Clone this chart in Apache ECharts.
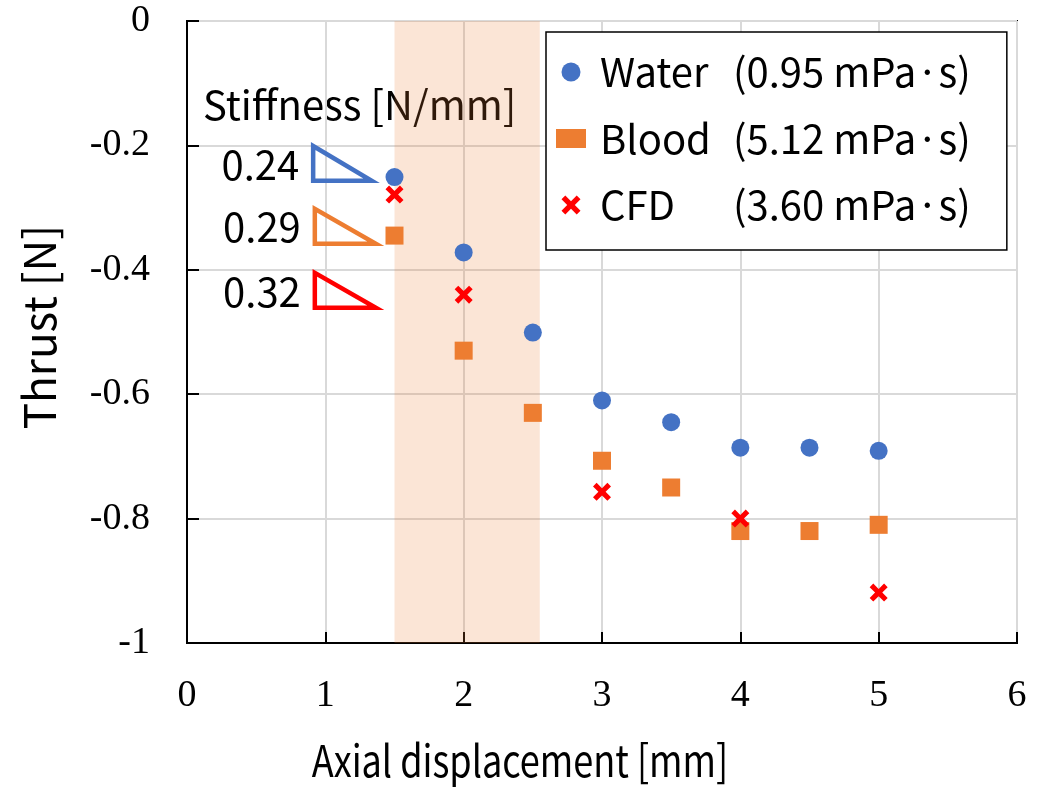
<!DOCTYPE html>
<html><head><meta charset="utf-8">
<script src="https://cdn.jsdelivr.net/npm/echarts@6/dist/echarts.min.js"></script>
<style>html,body{margin:0;padding:0;background:#fff}#c{width:1038px;height:792px}</style>
</head><body><div id="c"></div>
<script>
// ---- data ----
const waterX = [1.5, 2.0, 2.5, 3.0, 3.5, 4.0, 4.5, 5.0];
const waterY = [-0.251, -0.372, -0.501, -0.610, -0.645, -0.686, -0.686, -0.691];
const bloodX = [1.5, 2.0, 2.5, 3.0, 3.5, 4.0, 4.5, 5.0];
const bloodY = [-0.345, -0.530, -0.630, -0.707, -0.750, -0.820, -0.820, -0.810];
const cfdX = [1.5, 2.0, 3.0, 4.0, 5.0];
const cfdY = [-0.279, -0.440, -0.757, -0.800, -0.919];
const seriesNames = ['Water', 'Blood', 'CFD'];
const viscosities = ['(0.95 mPa·s)', '(5.12 mPa·s)', '(3.60 mPa·s)'];
const bandRange = [1.5, 2.55];
const xTitle = 'Axial displacement [mm]';
const yTitle = 'Thrust [N]';
const stiffnessTitle = 'Stiffness [N/mm]';
const stiffnessLabels = ['0.24', '0.29', '0.32'];
// triangle annotations in data coords: [xLeft, xRight, yTop, yBottom]
const triangles = [
  [0.912, 1.335, -0.201, -0.257],
  [0.924, 1.365, -0.302, -0.358],
  [0.924, 1.365, -0.405, -0.461]
];
const xTicks = [0, 1, 2, 3, 4, 5, 6];
const yTicks = [0, -0.2, -0.4, -0.6, -0.8, -1];

const colors = ['#4472C4', '#ED7D31', '#FF0000'];
const crossPath = 'path://M0,2L2,0L5,3L8,0L10,2L7,5L10,8L8,10L5,7L2,10L0,8L3,5Z';
const sans = '"Noto Sans CJK JP", "Noto Sans", sans-serif';
const serif = '"Liberation Serif", serif';

const zip = (xs, ys) => xs.map((x, i) => [x, ys[i]]);

const chart = echarts.init(document.getElementById('c'), null, {renderer: 'canvas'});
chart.setOption({
  animation: false,
  backgroundColor: '#fff',
  grid: {left: 187, right: 21, top: 21, bottom: 149, show: true, borderColor: '#000', borderWidth: 2, backgroundColor: 'transparent'},
  xAxis: {
    type: 'value', position: 'bottom', min: xTicks[0], max: xTicks[xTicks.length - 1], interval: 1,
    axisLine: {show: true, onZero: false, lineStyle: {color: '#000', width: 2}},
    axisTick: {show: true, inside: true, length: 11, lineStyle: {color: '#000', width: 2}},
    axisLabel: {fontFamily: serif, fontSize: 38, color: '#000', margin: 34},
    splitLine: {show: true, lineStyle: {color: '#D9D9D9', width: 2}}
  },
  yAxis: {
    type: 'value', position: 'left', min: yTicks[yTicks.length - 1], max: yTicks[0], interval: 0.2,
    axisLine: {show: true, onZero: false, lineStyle: {color: '#000', width: 2}},
    axisTick: {show: true, inside: true, length: 12, lineStyle: {color: '#000', width: 2}},
    axisLabel: {fontFamily: serif, fontSize: 38, color: '#000', margin: 37,
      formatter: v => (Math.abs(v) < 1e-9 ? '0' : String(+v.toFixed(1)))},
    splitLine: {show: true, lineStyle: {color: '#D9D9D9', width: 2}}
  },
  legend: {
    show: true, orient: 'vertical', left: 546, top: 32,
    data: seriesNames,
    itemWidth: 30, itemHeight: 19, itemGap: 22.5,
    padding: [18, 36, 23, 10],
    backgroundColor: '#fff', borderColor: '#000', borderWidth: 1.5,
    formatter: name => '{a|' + name + '}{b|' + viscosities[seriesNames.indexOf(name)] + '}',
    textStyle: {
      fontFamily: sans, fontSize: 40, color: '#000', lineHeight: 44,
      rich: {
        a: {fontFamily: sans, fontSize: 40, color: '#000', width: 133, padding: [0, 0, 0, 9]},
        b: {fontFamily: sans, fontSize: 40, color: '#000'}
      }
    }
  },
  graphic: [
    {type: 'text', x: 203, y: 105, silent: true,
      style: {text: stiffnessTitle, fontFamily: sans, fontSize: 40, fill: '#000', verticalAlign: 'middle'}},
    {type: 'text', x: 520, y: 760, scaleX: 0.82, silent: true,
      style: {text: xTitle, fontFamily: sans, fontSize: 44, fill: '#000', align: 'center', verticalAlign: 'middle'}},
    {type: 'text', x: 39, y: 327, rotation: Math.PI / 2, silent: true,
      style: {text: yTitle, fontFamily: sans, fontSize: 44, fill: '#000', align: 'center', verticalAlign: 'middle'}}
  ],
  series: [
    {
      name: 'band', type: 'line', data: [], silent: true, z: 1,
      markArea: {silent: true, itemStyle: {color: 'rgba(237,125,49,0.2)'},
        data: [[{xAxis: bandRange[0]}, {xAxis: bandRange[1]}]]}
    },
    {
      name: 'triangles', type: 'custom', silent: true, z: 3,
      data: triangles.map((t, i) => [t[0], t[1], t[2], t[3], i]),
      renderItem: function (params, api) {
        const x0 = api.value(0), x1 = api.value(1), y0 = api.value(2), y1 = api.value(3), idx = api.value(4);
        const pTL = api.coord([x0, y0]), pBL = api.coord([x0, y1]), pBR = api.coord([x1, y1]);
        return {
          type: 'group',
          children: [
            {type: 'polygon', shape: {points: [pTL, pBL, pBR]},
              style: {fill: 'none', stroke: colors[idx], lineWidth: 4.5, lineJoin: 'miter'}},
            {type: 'text', style: {text: stiffnessLabels[idx], x: pTL[0] - 14, y: (pTL[1] + pBL[1]) / 2 + 1,
              align: 'right', verticalAlign: 'middle', fontFamily: sans, fontSize: 40, fill: '#000'}}
          ]
        };
      }
    },
    {name: 'Water', type: 'scatter', data: zip(waterX, waterY), symbol: 'circle', symbolSize: 18,
      itemStyle: {color: colors[0], opacity: 1}, z: 4},
    {name: 'Blood', type: 'scatter', data: zip(bloodX, bloodY), symbol: 'rect', symbolSize: 18,
      itemStyle: {color: colors[1], opacity: 1}, z: 4},
    {name: 'CFD', type: 'scatter', data: zip(cfdX, cfdY), symbol: crossPath, symbolSize: 18,
      itemStyle: {color: colors[2], opacity: 1}, z: 5}
  ]
});
</script></body></html>
